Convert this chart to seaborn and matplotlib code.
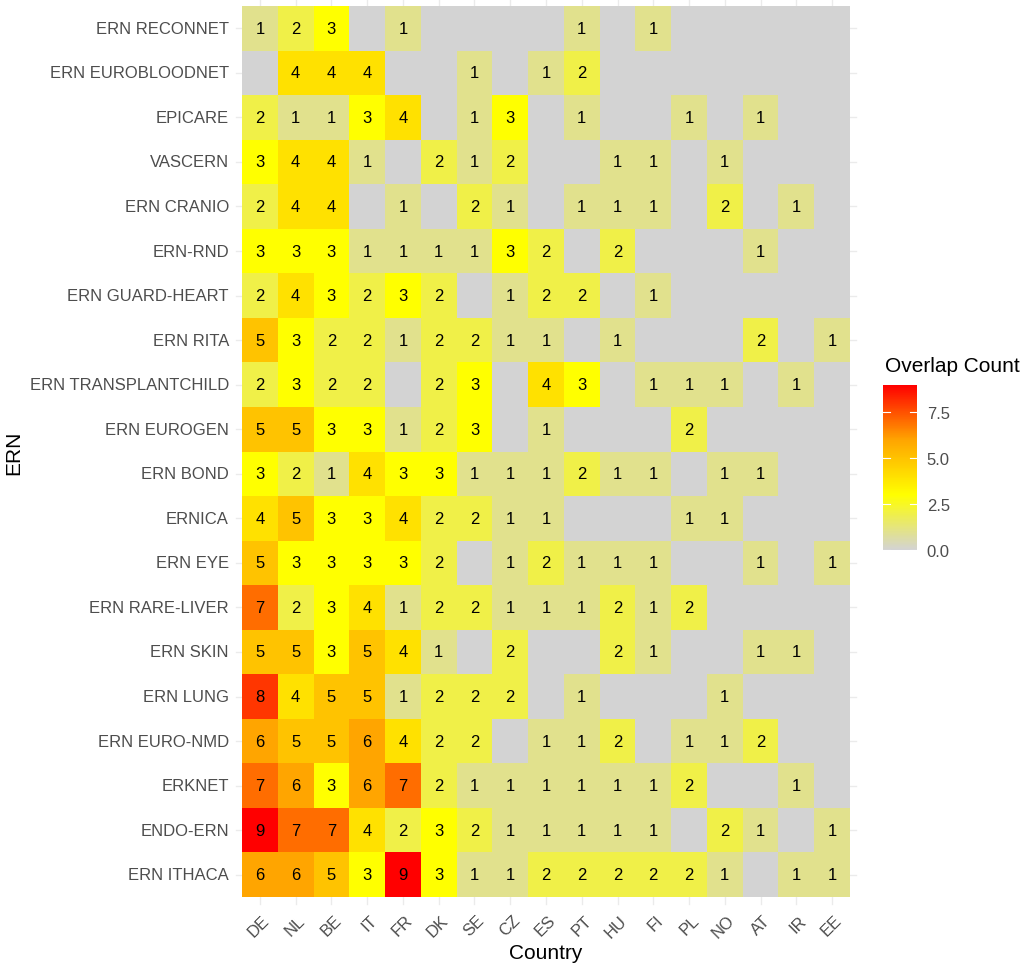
import matplotlib
matplotlib.use("Agg")
import matplotlib.pyplot as plt
from matplotlib.colors import LinearSegmentedColormap
from matplotlib.transforms import ScaledTranslation
import numpy as np
import pandas as pd
import seaborn as sns

countries = ["DE", "NL", "BE", "IT", "FR", "DK", "SE", "CZ", "ES", "PT",
             "HU", "FI", "PL", "NO", "AT", "IR", "EE"]

erns = ["ERN RECONNET", "ERN EUROBLOODNET", "EPICARE", "VASCERN", "ERN CRANIO",
        "ERN-RND", "ERN GUARD-HEART", "ERN RITA", "ERN TRANSPLANTCHILD",
        "ERN EUROGEN", "ERN BOND", "ERNICA", "ERN EYE", "ERN RARE-LIVER",
        "ERN SKIN", "ERN LUNG", "ERN EURO-NMD", "ERKNET", "ENDO-ERN", "ERN ITHACA"]

# overlap counts, one row per ERN (columns follow `countries`)
reconnet       = [1, 2, 3, 0, 1, 0, 0, 0, 0, 1, 0, 1, 0, 0, 0, 0, 0]
eurobloodnet   = [0, 4, 4, 4, 0, 0, 1, 0, 1, 2, 0, 0, 0, 0, 0, 0, 0]
epicare        = [2, 1, 1, 3, 4, 0, 1, 3, 0, 1, 0, 0, 1, 0, 1, 0, 0]
vascern        = [3, 4, 4, 1, 0, 2, 1, 2, 0, 0, 1, 1, 0, 1, 0, 0, 0]
cranio         = [2, 4, 4, 0, 1, 0, 2, 1, 0, 1, 1, 1, 0, 2, 0, 1, 0]
rnd            = [3, 3, 3, 1, 1, 1, 1, 3, 2, 0, 2, 0, 0, 0, 1, 0, 0]
guard_heart    = [2, 4, 3, 2, 3, 2, 0, 1, 2, 2, 0, 1, 0, 0, 0, 0, 0]
rita           = [5, 3, 2, 2, 1, 2, 2, 1, 1, 0, 1, 0, 0, 0, 2, 0, 1]
transplantchild = [2, 3, 2, 2, 0, 2, 3, 0, 4, 3, 0, 1, 1, 1, 0, 1, 0]
eurogen        = [5, 5, 3, 3, 1, 2, 3, 0, 1, 0, 0, 0, 2, 0, 0, 0, 0]
bond           = [3, 2, 1, 4, 3, 3, 1, 1, 1, 2, 1, 1, 0, 1, 1, 0, 0]
ernica         = [4, 5, 3, 3, 4, 2, 2, 1, 1, 0, 0, 0, 1, 1, 0, 0, 0]
eye            = [5, 3, 3, 3, 3, 2, 0, 1, 2, 1, 1, 1, 0, 0, 1, 0, 1]
rare_liver     = [7, 2, 3, 4, 1, 2, 2, 1, 1, 1, 2, 1, 2, 0, 0, 0, 0]
skin           = [5, 5, 3, 5, 4, 1, 0, 2, 0, 0, 2, 1, 0, 0, 1, 1, 0]
lung           = [8, 4, 5, 5, 1, 2, 2, 2, 0, 1, 0, 0, 0, 1, 0, 0, 0]
euro_nmd       = [6, 5, 5, 6, 4, 2, 2, 0, 1, 1, 2, 0, 1, 1, 2, 0, 0]
erknet         = [7, 6, 3, 6, 7, 2, 1, 1, 1, 1, 1, 1, 2, 0, 0, 1, 0]
endo_ern       = [9, 7, 7, 4, 2, 3, 2, 1, 1, 1, 1, 1, 0, 2, 1, 0, 1]
ithaca         = [6, 6, 5, 3, 9, 3, 1, 1, 2, 2, 2, 2, 2, 1, 0, 1, 1]

rows = [reconnet, eurobloodnet, epicare, vascern, cranio, rnd, guard_heart,
        rita, transplantchild, eurogen, bond, ernica, eye, rare_liver, skin,
        lung, euro_nmd, erknet, endo_ern, ithaca]

df = pd.DataFrame(rows, index=erns, columns=countries)
labels = df.map(lambda v: str(v) if v > 0 else "")

cmap = LinearSegmentedColormap.from_list(
    "overlap", ["#D3D3D3", "#FFFF00", "#FFA500", "#FF0000"])

plt.rcParams["font.family"] = ["Liberation Sans", "DejaVu Sans"]

W, H = 1022, 970
fig = plt.figure(figsize=(W / 100, H / 100), dpi=100)
ax = fig.add_axes([242 / W, 1 - 898 / H, 608 / W, 891 / H])
cax = fig.add_axes([883 / W, 1 - 551 / H, 34 / W, 165 / H])

sns.heatmap(df, ax=ax, cmap=cmap, vmin=0, vmax=9, annot=labels, fmt="",
            annot_kws={"fontsize": 12, "color": "black"},
            cbar_ax=cax, linewidths=0)

# faint theme grid stubs poking out around the tiles
n_rows, n_cols = df.shape
for i in range(n_cols):
    ax.plot([i + 0.5, i + 0.5], [-0.16, 0], color="#EBEBEB", lw=1, clip_on=False, zorder=0)
    ax.plot([i + 0.5, i + 0.5], [n_rows, n_rows + 0.16], color="#EBEBEB", lw=1, clip_on=False, zorder=0)
for j in range(n_rows):
    ax.plot([-0.17, 0], [j + 0.5, j + 0.5], color="#EBEBEB", lw=1, clip_on=False, zorder=0)
    ax.plot([n_cols, n_cols + 0.17], [j + 0.5, j + 0.5], color="#EBEBEB", lw=1, clip_on=False, zorder=0)

ax.set_xlabel("Country", fontsize=15)
ax.set_ylabel("ERN", fontsize=15)
ax.xaxis.set_label_coords(0.5, -0.052)
ax.yaxis.set_label_coords(-0.360, 0.5)
ax.tick_params(axis="x", length=0, labelsize=12, labelcolor="#4D4D4D", pad=11)
ax.tick_params(axis="y", length=0, labelsize=12, labelcolor="#4D4D4D", pad=9.4)
plt.setp(ax.get_xticklabels(), rotation=45, ha="right", rotation_mode="anchor")
plt.setp(ax.get_yticklabels(), rotation=0)
shift = ScaledTranslation(2 / 100, 0, fig.dpi_scale_trans)
for lab in ax.get_xticklabels():
    lab.set_transform(lab.get_transform() + shift)

cb = ax.collections[0].colorbar
cb.outline.set_visible(False)
cb.set_ticks([0, 2.5, 5, 7.5])
cb.set_ticklabels(["0.0", "2.5", "5.0", "7.5"])
cax.tick_params(labelsize=12, labelcolor="#4D4D4D", length=0, pad=7)
for t in [0, 2.5, 5, 7.5]:
    cax.plot([0, 0.2], [t, t], color="white", lw=0.8)
    cax.plot([0.8, 1.0], [t, t], color="white", lw=0.8)
cax.set_xlim(0, 1)
fig.text(885 / W, 1 - 367 / H, "Overlap Count", fontsize=15,
         va="center", ha="left")

fig.savefig("out.png", dpi=100)
